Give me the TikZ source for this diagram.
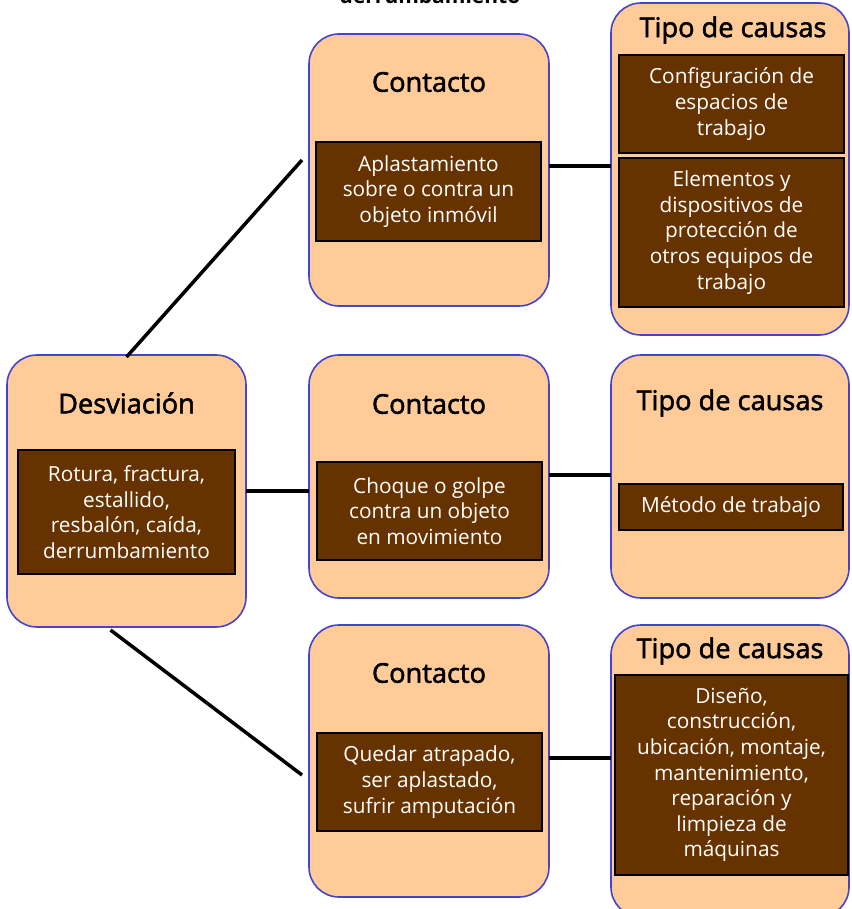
\documentclass[tikz,border=0pt]{standalone}
\usepackage{fontspec}
\setmainfont{Open Sans}
\newfontfamily\headfont[FakeBold=2]{Open Sans}
\definecolor{peach}{HTML}{FFCC99}
\definecolor{rim}{HTML}{4444CC}
\definecolor{bark}{HTML}{663300}
\begin{document}
\begin{tikzpicture}[x=1pt,y=-1pt,
  panel/.style={draw=rim, line width=1.6pt, fill=peach, rounded corners=30pt,
    anchor=north west, inner sep=0pt, outer sep=0pt},
  card/.style={draw=black, line width=1.6pt, fill=bark, text=white, align=center,
    anchor=north west, inner sep=0pt, outer sep=0pt,
    font=\fontsize{20.8}{25.6}\selectfont},
  head/.style={font=\fontsize{27.2}{30}\headfont, text=black},
  link/.style={line width=3.5pt, draw=black}]
\useasboundingbox (0,0) rectangle (851,909);

% partly visible caption above the chart
\node[anchor=base, font=\fontsize{21}{24}\selectfont\bfseries] (cap) at (430,4) {derrumbamiento};

% outer panels
\node[panel, minimum width=239pt, minimum height=272pt] (dev) at (7,355) {};
\node[panel, minimum width=240pt, minimum height=272pt] (c1) at (309,34) {};
\node[panel, minimum width=240pt, minimum height=243pt] (c2) at (309,355) {};
\node[panel, minimum width=240pt, minimum height=272pt] (c3) at (309,625) {};
\node[panel, minimum width=238pt, minimum height=332pt] (t1) at (611,3) {};
\node[panel, minimum width=238pt, minimum height=243pt] (t2) at (611,355) {};
\node[panel, minimum width=238pt, minimum height=292pt] (t3) at (611,625) {};

% headings
\node[head] (devh) at (126.5,403) {Desviación};
\node[head] (c1h) at (429,82) {Contacto};
\node[head] (c2h) at (429,404) {Contacto};
\node[head] (c3h) at (429,673) {Contacto};
\node[head] (t1h) at (733,30) {Tipo de causas};
\node[head] (t2h) at (730,403) {Tipo de causas};
\node[head] (t3h) at (730,651) {Tipo de causas};

% inner cards
\node[card, minimum width=217pt, minimum height=124pt] (devc) at (18,450)
  {Rotura, fractura,\\estallido,\\resbalón, caída,\\derrumbamiento};
\node[card, minimum width=225pt, minimum height=99pt] (c1c) at (316,142)
  {Aplastamiento\\sobre o contra un\\objeto inmóvil};
\node[card, minimum width=225pt, minimum height=98pt] (c2c) at (317,462)
  {Choque o golpe\\contra un objeto\\en movimiento};
\node[card, minimum width=225pt, minimum height=98pt] (c3c) at (317,733)
  {Quedar atrapado,\\ser aplastado,\\sufrir amputación};
\node[card, minimum width=225pt, minimum height=98pt] (t1a) at (619,55)
  {Configuración de\\espacios de\\trabajo};
\node[card, minimum width=225pt, minimum height=149pt] (t1b) at (619,158)
  {Elementos y\\dispositivos de\\protección de\\otros equipos de\\trabajo};
\node[card, minimum width=224pt, minimum height=46pt] (t2a) at (619,484)
  {Método de trabajo};
\node[card, minimum width=233pt, minimum height=200pt] (t3a) at (615,675)
  {Diseño,\\construcción,\\ubicación, montaje,\\mantenimiento,\\reparación y\\limpieza de\\máquinas};

% connectors
\draw[link] ([yshift=-2pt]dev.north) -- ([xshift=-7pt,yshift=10pt]c1.west);
\draw[link] (dev.east) -- (dev.east -| c2.west);
\draw[link] ([xshift=-16pt,yshift=-3pt]dev.south) -- ([xshift=-7pt,yshift=-14pt]c3.west);
\draw[link] ([yshift=4pt]c1.east) -- ([yshift=4pt]c1.east -| t1.west);
\draw[link] ([yshift=1.5pt]c2.east) -- ([yshift=1.5pt]c2.east -| t2.west);
\draw[link] ([yshift=3pt]c3.east) -- ([yshift=3pt]c3.east -| t3.west);
\end{tikzpicture}
\end{document}
